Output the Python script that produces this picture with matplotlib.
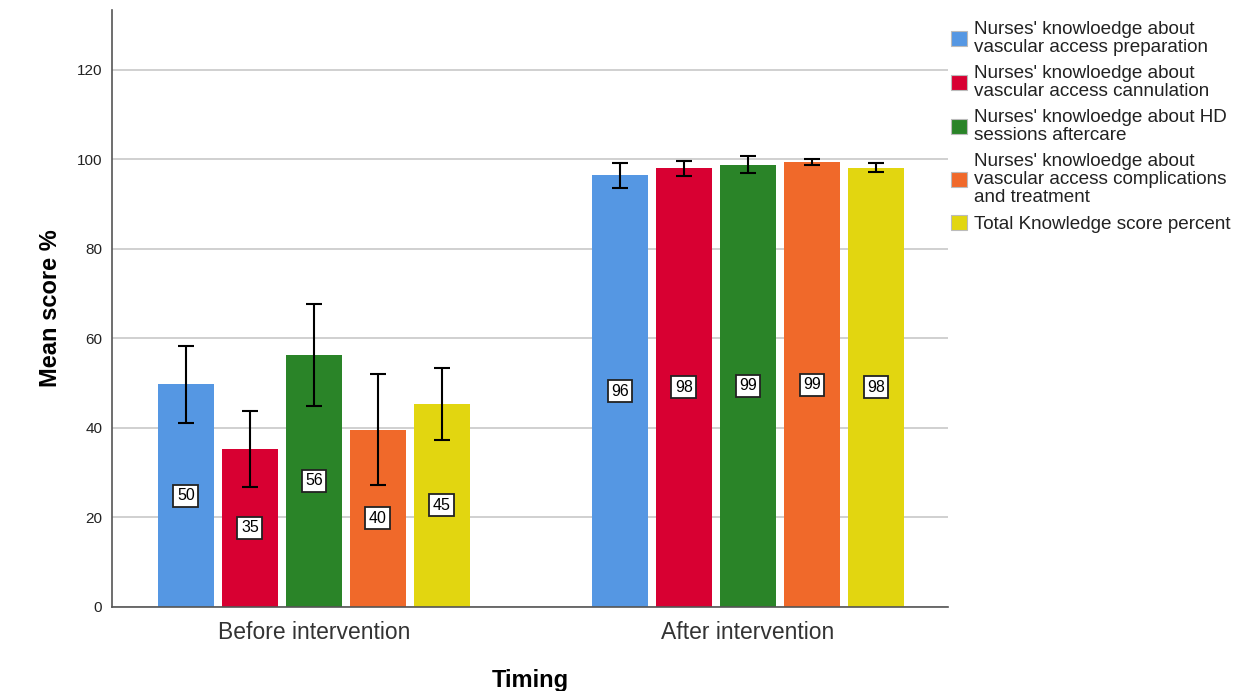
import matplotlib.pyplot as plt
import numpy as np

plt.rcParams['font.family'] = ['Liberation Sans', 'DejaVu Sans']

timing = ['Before intervention', 'After intervention']
series = [
    "Nurses' knowloedge about\nvascular access preparation",
    "Nurses' knowloedge about\nvascular access cannulation",
    "Nurses' knowloedge about HD\nsessions aftercare",
    "Nurses' knowloedge about\nvascular access complications\nand treatment",
    "Total Knowledge score percent",
]
colors = ['#5597E3', '#D80032', '#2A8428', '#F0692A', '#E2D610']

# means per series: [before, after]
means = [
    [49.8, 96.5],
    [35.3, 98.1],
    [56.3, 98.8],
    [39.6, 99.4],
    [45.4, 98.1],
]
err_low = [
    [41.2, 93.6],
    [26.9, 96.4],
    [45.0, 96.9],
    [27.3, 98.7],
    [37.2, 97.1],
]
err_high = [
    [58.3, 99.1],
    [43.8, 99.6],
    [67.7, 100.8],
    [52.0, 100.1],
    [53.3, 99.2],
]
labels = [
    ['50', '96'],
    ['35', '98'],
    ['56', '99'],
    ['40', '99'],
    ['45', '98'],
]

fig = plt.figure(figsize=(12.45, 6.91), dpi=100)
ax = fig.add_axes([0.09, 0.1216, 0.6715, 0.864])

x = np.arange(len(timing))
step = 0.1475
width = 0.129

for i in range(len(series)):
    pos = x + (i - 2) * step
    m = np.array(means[i])
    lo = m - np.array(err_low[i])
    hi = np.array(err_high[i]) - m
    ax.bar(pos, m, width, color=colors[i], label=series[i], zorder=2)
    ax.errorbar(pos, m, yerr=[lo, hi], fmt='none', ecolor='black',
                elinewidth=1.5, capsize=5.8, capthick=1.5, zorder=3)
    for p, v, t in zip(pos, m, labels[i]):
        ax.text(p, v / 2, t, ha='center', va='center', fontsize=11.5,
                bbox=dict(boxstyle='square,pad=0.22', fc='white', ec='#222222', lw=1.3),
                zorder=4)

ax.set_xlim(-0.465, 1.461)
ax.set_ylim(0, 133.4)
ax.set_yticks(range(0, 121, 20))
ax.set_xticks(x)
ax.set_xticklabels(timing, fontsize=16.5, color='#333333')
ax.tick_params(axis='both', length=0)
ax.tick_params(axis='y', labelsize=11, pad=7, labelcolor='#222222')
ax.tick_params(axis='x', pad=10)
ax.yaxis.grid(True, color='#C8C8C8', lw=1.2, zorder=0)
ax.set_axisbelow(True)
for s in ['top', 'right']:
    ax.spines[s].set_visible(False)
for s in ['left', 'bottom']:
    ax.spines[s].set_color('#555555')
    ax.spines[s].set_linewidth(1.2)

ax.set_ylabel('Mean score %', fontsize=17, fontweight='bold', labelpad=11)
ax.set_xlabel('Timing', fontsize=17, fontweight='bold', labelpad=18)

leg = ax.legend(loc='upper left', bbox_to_anchor=(0.994, 0.994), frameon=False,
                fontsize=13.6, handlelength=0.85, handleheight=0.85,
                handletextpad=0.37, labelspacing=0.5, borderaxespad=0)
for t in leg.get_texts():
    t.set_linespacing(1.05)
    t.set_color('#222222')
for h in leg.legend_handles:
    h.set_edgecolor('#BBBBBB')
    h.set_linewidth(0.8)

fig.savefig('out.png', dpi=100)
